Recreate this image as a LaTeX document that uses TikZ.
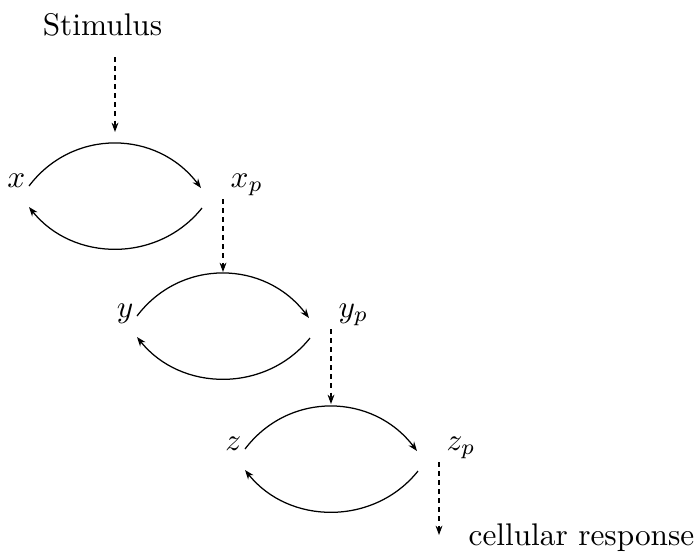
\documentclass[tikz,border=0pt]{standalone}
\usetikzlibrary{arrows.meta}
\begin{document}
\begin{tikzpicture}[x=0.3195pt,y=-0.3195pt,
  arcarrow/.style={line width=0.4pt,-{Stealth[length=3pt,width=2.2pt]}},
  dasharrow/.style={line width=0.35pt,dash pattern=on 1.5pt off 1.4pt,-{Stealth[length=3pt,width=2.2pt]}},
  lab/.style={inner sep=0pt}]
\useasboundingbox (0,0) rectangle (697,552);
\foreach \n/\px/\py/\l in {1/115/143/x,2/223/273/y,3/331/406/z}{
  \coordinate (P\n) at (\px,\py);
  \node[lab,anchor=base east] (L\n) at ([shift={(-89,44)}]P\n) {$\l$};
  \node[lab,anchor=base west] (R\n) at ([shift={(115,44)}]P\n) {$\l_p$};
  \coordinate (tl\n) at ([shift={(-86,43)}]P\n);
  \coordinate (tr\n) at ([shift={(86,45)}]P\n);
  \coordinate (br\n) at ([shift={(87,65)}]P\n);
  \coordinate (bl\n) at ([shift={(-86,64)}]P\n);
  \coordinate (o\n) at ([shift={(108,56)}]P\n);
  \draw[arcarrow] (tl\n) .. controls +(44,-58) and +(-44,-58) .. (tr\n);
  \draw[arcarrow] (br\n) .. controls +(-44,55) and +(44,55) .. (bl\n);
}
\node[lab,anchor=base] (stim) at (102.5,35) {Stimulus};
\coordinate (s0) at (115,57);
\coordinate (s1) at (115,132);
\draw[dasharrow] (s0) -- (s1);
\coordinate (t2) at (223,272);
\coordinate (t3) at (331,404);
\coordinate (t4) at (439,535);
\draw[dasharrow] (o1) -- (t2);
\draw[dasharrow] (o2) -- (t3);
\draw[dasharrow] (o3) -- (t4);
\node[lab,anchor=base west] (resp) at (468,545) {cellular response};
\end{tikzpicture}
\end{document}
